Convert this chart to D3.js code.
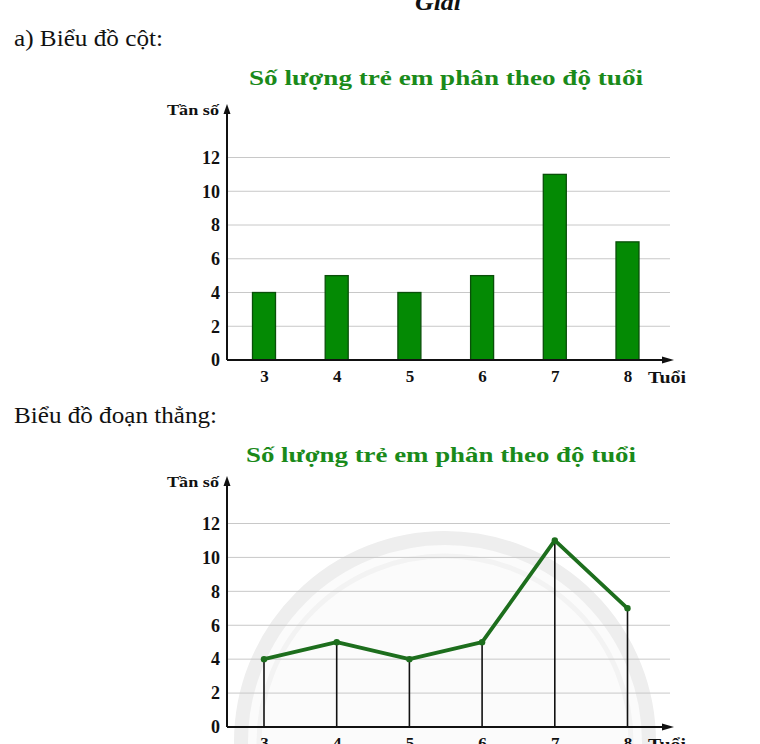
<!DOCTYPE html>
<html>
<head>
<meta charset="utf-8">
<script src="https://cdn.jsdelivr.net/npm/d3@7"></script>
<style>
  body { margin: 0; background: #fff; }
  svg { display: block; font-family: "Liberation Serif", "DejaVu Serif", serif; }
</style>
</head>
<body>
<svg id="chart" width="760" height="744"></svg>
<script>
const ages = [3, 4, 5, 6, 7, 8];
const counts = [4, 5, 4, 5, 11, 7];
const yTicks = [0, 2, 4, 6, 8, 10, 12];
const chartTitle = "Số lượng trẻ em phân theo độ tuổi";
const yLabel = "Tần số";
const xLabel = "Tuổi";

const svg = d3.select("#chart");
svg.append("rect").attr("width", 760).attr("height", 744).attr("fill", "#fff");

// Header texts
svg.append("text").attr("x", 415).attr("y", 10)
  .attr("font-size", 24).attr("font-style", "italic").attr("font-weight", "bold").attr("fill", "#111")
  .attr("textLength", 46).attr("lengthAdjust", "spacingAndGlyphs").text("Giải");
svg.append("text").attr("x", 14).attr("y", 46).attr("font-size", 23).attr("fill", "#111")
  .attr("textLength", 149).attr("lengthAdjust", "spacingAndGlyphs").text("a) Biểu đồ cột:");
svg.append("text").attr("x", 14).attr("y", 423).attr("font-size", 23).attr("fill", "#111")
  .attr("textLength", 203).attr("lengthAdjust", "spacingAndGlyphs").text("Biểu đồ đoạn thẳng:");

function drawFrame(g, cfg) {
  const x = d3.scaleLinear().domain([3, 8]).range([264, 627.5]);
  const y = d3.scaleLinear().domain([0, 12]).range([cfg.y0, cfg.y12]);
  g.append("text").attr("x", cfg.titleX).attr("y", cfg.titleY)
    .attr("font-size", 22).attr("font-weight", "bold").attr("fill", "#1a8a1a")
    .attr("textLength", cfg.titleW).attr("lengthAdjust", "spacingAndGlyphs").text(chartTitle);
  g.append("g").selectAll("line").data(yTicks.filter(d => d > 0)).join("line")
    .attr("x1", 228).attr("x2", 670).attr("y1", d => y(d)).attr("y2", d => y(d))
    .attr("stroke", "#c8c8c8").attr("stroke-width", 1);
  const yAxis = g.append("g").attr("transform", "translate(227,0)")
    .call(d3.axisLeft(y).tickValues(yTicks).tickSize(0).tickPadding(7));
  yAxis.select(".domain").remove();
  yAxis.selectAll("text").attr("font-family", "Liberation Serif, serif").attr("font-size", 18)
    .attr("font-weight", "bold").attr("fill", "#111");
  const xAxis = g.append("g").attr("transform", `translate(0,${cfg.y0})`)
    .call(d3.axisBottom(x).tickValues(ages).tickFormat(d3.format("d")).tickSize(0).tickPadding(10));
  xAxis.select(".domain").remove();
  xAxis.selectAll("text").attr("font-family", "Liberation Serif, serif").attr("font-size", 17)
    .attr("font-weight", "bold").attr("fill", "#111");
  return { x, y };
}

function drawAxes(g, cfg) {
  g.append("line").attr("x1", 227).attr("x2", 227).attr("y1", cfg.y0).attr("y2", cfg.axisTop + 6)
    .attr("stroke", "#111").attr("stroke-width", 2);
  g.append("path").attr("d", `M227,${cfg.axisTop} L223.5,${cfg.axisTop + 10} L230.5,${cfg.axisTop + 10} Z`).attr("fill", "#111");
  g.append("line").attr("x1", 227).attr("x2", 664).attr("y1", cfg.y0).attr("y2", cfg.y0)
    .attr("stroke", "#111").attr("stroke-width", 2);
  g.append("path").attr("d", `M674,${cfg.y0} L662,${cfg.y0 - 3.5} L662,${cfg.y0 + 3.5} Z`).attr("fill", "#111");
  g.append("text").attr("x", 167).attr("y", cfg.axisTop + 11)
    .attr("font-size", 15).attr("font-weight", "bold").attr("fill", "#111")
    .attr("textLength", 52).attr("lengthAdjust", "spacingAndGlyphs").text(yLabel);
  g.append("text").attr("x", 648).attr("y", cfg.y0 + 23)
    .attr("font-size", 17).attr("font-weight", "bold").attr("fill", "#111")
    .attr("textLength", 38).attr("lengthAdjust", "spacingAndGlyphs").text(xLabel);
}

// ---- Bar chart ----
const cfg1 = { y0: 360, y12: 157.5, axisTop: 104, titleX: 249, titleY: 85, titleW: 394 };
const g1 = svg.append("g");
const s1 = drawFrame(g1, cfg1);
g1.append("g").selectAll("rect").data(ages).join("rect")
  .attr("x", (d) => s1.x(d) - 11.5)
  .attr("width", 23)
  .attr("y", (d, i) => s1.y(counts[i]))
  .attr("height", (d, i) => s1.y(0) - s1.y(counts[i]))
  .attr("fill", "#048a04").attr("stroke", "#0a4f0a").attr("stroke-width", 1.3);
drawAxes(g1, cfg1);

// ---- Line chart ----
const cfg2 = { y0: 727, y12: 523.5, axisTop: 476, titleX: 246, titleY: 462, titleW: 390 };
const g2 = svg.append("g");
g2.append("circle").attr("cx", 445).attr("cy", 742).attr("r", 204)
  .attr("fill", "#fbfbfb").attr("stroke", "#eeeeee").attr("stroke-width", 14);
g2.append("circle").attr("cx", 445).attr("cy", 742).attr("r", 186)
  .attr("fill", "none").attr("stroke", "#f3f3f3").attr("stroke-width", 5);
const s2 = drawFrame(g2, cfg2);
g2.append("g").selectAll("line").data(ages).join("line")
  .attr("x1", d => s2.x(d)).attr("x2", d => s2.x(d))
  .attr("y1", (d, i) => s2.y(counts[i])).attr("y2", s2.y(0))
  .attr("stroke", "#111").attr("stroke-width", 1.6);
const line = d3.line().x((d, i) => s2.x(ages[i])).y(d => s2.y(d));
g2.append("path").datum(counts).attr("d", line)
  .attr("fill", "none").attr("stroke", "#1d6e1d").attr("stroke-width", 3.8).attr("stroke-linejoin", "round");
g2.append("g").selectAll("circle").data(counts).join("circle")
  .attr("cx", (d, i) => s2.x(ages[i])).attr("cy", d => s2.y(d)).attr("r", 3.2).attr("fill", "#1d6e1d");
drawAxes(g2, cfg2);
</script>
</body>
</html>
